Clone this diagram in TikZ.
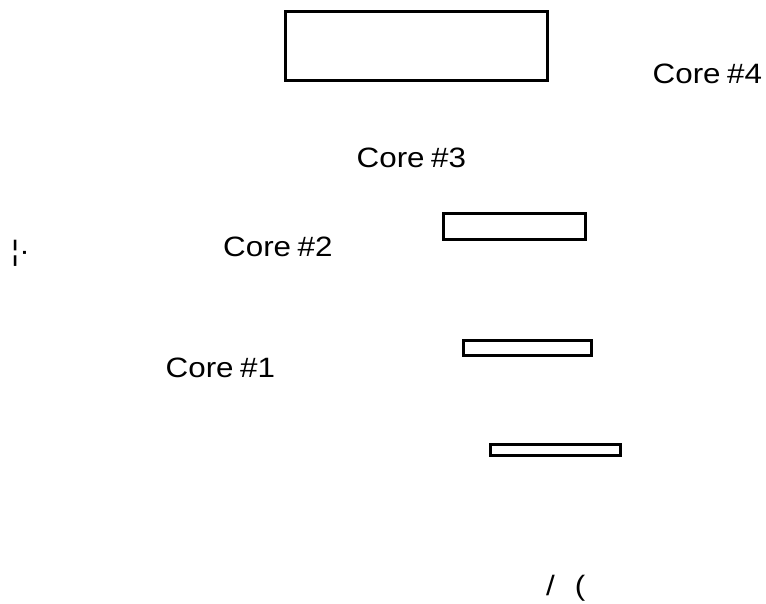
\documentclass[tikz,border=0pt]{standalone}
\usepackage{fontspec}
\setmainfont{Liberation Sans}[FakeStretch=1.12]
\begin{document}
\begin{tikzpicture}[x=1pt,y=-1pt,
  corebox/.style={draw=black,line width=3.2pt,fill=white,inner sep=0pt,outer sep=0pt},
  corelabel/.style={font=\fontsize{28}{32}\selectfont,inner sep=0pt,anchor=base west}]
  \useasboundingbox (0,0) rectangle (766,604);
  % cache blocks
  \node[corebox,minimum width=262pt,minimum height=69pt] (blk4) at (416.5,46) {};
  \node[corebox,minimum width=142pt,minimum height=26pt] (blk3) at (514.5,226.5) {};
  \node[corebox,minimum width=128pt,minimum height=15pt] (blk2) at (527.5,348) {};
  \node[corebox,minimum width=130pt,minimum height=11pt] (blk1) at (555.5,450) {};
  % labels
  \node[corelabel] (lbl4) at (652.5,84) {Core\hspace{6.5pt}\#4};
  \node[corelabel] (lbl3) at (356.5,167.5) {Core\hspace{6.5pt}\#3};
  \node[corelabel] (lbl2) at (223,257) {Core\hspace{6.5pt}\#2};
  \node[corelabel] (lbl1) at (165.5,377) {Core\hspace{6.5pt}\#1};
  \node[corelabel] (mark) at (11,261) {¦·};
  \node[corelabel] (tail) at (546,595) {/\hspace{20pt}(};
\end{tikzpicture}
\end{document}
